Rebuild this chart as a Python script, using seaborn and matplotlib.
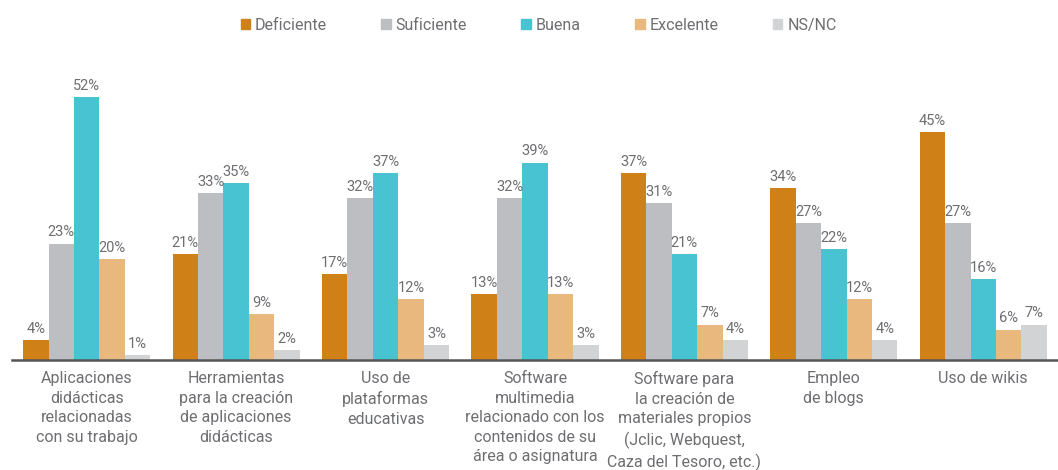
import matplotlib
matplotlib.use("Agg")
import matplotlib.pyplot as plt
import seaborn as sns
import pandas as pd

categories = [
    "Aplicaciones\ndidácticas\nrelacionadas\ncon su trabajo",
    "Herramientas\npara la creación\nde aplicaciones\ndidácticas",
    "Uso de\nplataformas\neducativas",
    "Software\nmultimedia\nrelacionado con los\ncontenidos de su\nárea o asignatura",
    "Software para\nla creación de\nmateriales propios\n(Jclic, Webquest,\nCaza del Tesoro, etc.)",
    "Empleo\nde blogs",
    "Uso de wikis",
]
levels = ["Deficiente", "Suficiente", "Buena", "Excelente", "NS/NC"]
deficiente = [4, 21, 17, 13, 37, 34, 45]
suficiente = [23, 33, 32, 32, 31, 27, 27]
buena = [52, 35, 37, 39, 21, 22, 16]
excelente = [20, 9, 12, 13, 7, 12, 6]
nsnc = [1, 2, 3, 3, 4, 4, 7]
colors = ["#CF8117", "#BDBEC1", "#48C3D1", "#E8B87E", "#D2D3D5"]

rows = []
for lvl, vals in zip(levels, [deficiente, suficiente, buena, excelente, nsnc]):
    for cat, v in zip(categories, vals):
        rows.append({"cat": cat, "nivel": lvl, "pct": v})
df = pd.DataFrame(rows)

sns.set_style("white")
plt.rcParams["font.family"] = ["Roboto", "DejaVu Sans"]
text_color = "#6d6e71"

fig = plt.figure(figsize=(10.58, 4.70), dpi=100)
ax = fig.add_axes([12 / 1058, 110 / 470, 1 - 12 / 1058, 300 / 470])

sns.barplot(data=df, x="cat", y="pct", hue="nivel", order=categories,
            hue_order=levels, palette=colors, width=0.85, gap=0,
            saturation=1, linewidth=0, ax=ax, legend=False)

for cont in ax.containers:
    ax.bar_label(cont, fmt="%d%%", padding=3, color=text_color, fontsize=10.5)

ax.set_xlim(-0.5, -0.5 + 1046 / 151)
ax.set_ylim(0, 300 / 5.06)
ax.set_xlabel("")
ax.set_ylabel("")
ax.set_yticks([])
for s in ["top", "right", "left"]:
    ax.spines[s].set_visible(False)
ax.spines["bottom"].set_color("#555555")
ax.spines["bottom"].set_linewidth(1.8)

ax.set_xticks(range(len(categories)))
ax.set_xticklabels(categories, fontsize=11.5, color=text_color, linespacing=1.38)
ax.tick_params(axis="x", which="major", length=0, pad=8)
ax.set_xticks([i - 0.5 for i in range(len(categories) + 1)], minor=True)
ax.tick_params(axis="x", which="minor", length=7, width=1.5, color="#555555")

handles = [plt.Rectangle((0, 0), 1, 1, color=c) for c in colors]
fig.legend(handles, levels, loc="upper center", bbox_to_anchor=(0.509, 0.993),
           ncol=5, frameon=False, fontsize=11.5, labelcolor=text_color,
           handlelength=0.6, handleheight=0.6, handletextpad=0.3,
           columnspacing=3.4)

fig.savefig("out.png", dpi=100)
